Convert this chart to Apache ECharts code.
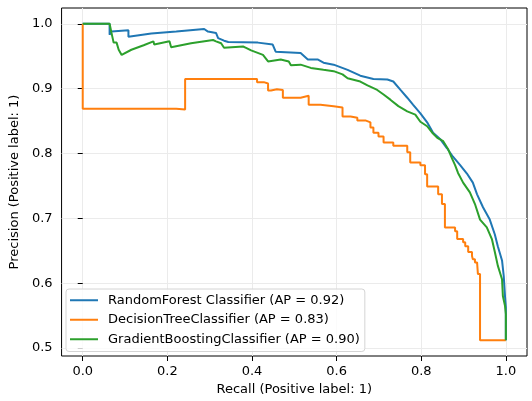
<!DOCTYPE html>
<html>
<head>
<meta charset="utf-8">
<script src="https://cdn.jsdelivr.net/npm/echarts@6/dist/echarts.min.js"></script>
<style>
  html, body { margin: 0; padding: 0; background: #fff; }
  #chart { width: 532px; height: 401px; }
</style>
</head>
<body>
<div id="chart"></div>
<script>
// 图例名称
var names = [
  'RandomForest Classifier (AP = 0.92)',
  'DecisionTreeClassifier (AP = 0.83)',
  'GradientBoostingClassifier (AP = 0.90)'
];
var colors = ['#1f77b4', '#ff7f0e', '#2ca02c'];

// 刻度
var xTicks = [0, 0.2, 0.4, 0.6, 0.8, 1.0];
var yTicks = [0.5, 0.6, 0.7, 0.8, 0.9, 1.0];

// RandomForest: [recall, precision]
var rfCurve = [
  [0, 1.0], [0.0635, 1.0], [0.0635, 0.983], [0.068, 0.988], [0.108, 0.990], [0.108, 0.980],
  [0.162, 0.985], [0.221, 0.988], [0.287, 0.992], [0.296, 0.988], [0.315, 0.986], [0.320, 0.978],
  [0.334, 0.974], [0.344, 0.972], [0.414, 0.971], [0.449, 0.968], [0.456, 0.957], [0.515, 0.955],
  [0.532, 0.945], [0.555, 0.945], [0.569, 0.940], [0.593, 0.937], [0.626, 0.929], [0.656, 0.920],
  [0.687, 0.915], [0.720, 0.914], [0.734, 0.911], [0.751, 0.898], [0.767, 0.886], [0.781, 0.875],
  [0.798, 0.862], [0.814, 0.848], [0.828, 0.832], [0.845, 0.822], [0.861, 0.808], [0.875, 0.795],
  [0.892, 0.782], [0.908, 0.769], [0.922, 0.755], [0.932, 0.737], [0.946, 0.717], [0.962, 0.698],
  [0.974, 0.675], [0.981, 0.657], [0.991, 0.635], [0.995, 0.611], [0.998, 0.580], [1.0, 0.563],
  [1.0, 0.512]
];

// DecisionTree: 阶梯点 [recall, precision]
var dtCurve = [
  [0, 1.0], [0.221, 0.869], [0.242, 0.868], [0.412, 0.915], [0.428, 0.910], [0.438, 0.908],
  [0.445, 0.897], [0.459, 0.899], [0.473, 0.898], [0.515, 0.886], [0.534, 0.889], [0.562, 0.875],
  [0.593, 0.873], [0.614, 0.871], [0.633, 0.857], [0.649, 0.855], [0.668, 0.851], [0.680, 0.848],
  [0.687, 0.840], [0.699, 0.832], [0.711, 0.826], [0.734, 0.817], [0.767, 0.812], [0.774, 0.802],
  [0.798, 0.786], [0.809, 0.782], [0.814, 0.768], [0.840, 0.749], [0.849, 0.737], [0.856, 0.722],
  [0.880, 0.686], [0.885, 0.680], [0.899, 0.668], [0.904, 0.663], [0.911, 0.657], [0.920, 0.648],
  [0.922, 0.642], [0.927, 0.637], [0.932, 0.632], [0.934, 0.629], [0.939, 0.614], [1.0, 0.512]
];

// GradientBoosting: [recall, precision]
var gbCurve = [
  [0, 1.0], [0.0635, 1.0], [0.068, 0.986], [0.073, 0.971], [0.080, 0.971], [0.085, 0.960],
  [0.092, 0.952], [0.115, 0.960], [0.144, 0.967], [0.167, 0.973], [0.169, 0.968], [0.205, 0.973],
  [0.209, 0.964], [0.256, 0.970], [0.308, 0.975], [0.315, 0.973], [0.327, 0.970], [0.334, 0.963],
  [0.379, 0.965], [0.386, 0.963], [0.398, 0.959], [0.426, 0.952], [0.438, 0.942], [0.468, 0.945],
  [0.487, 0.942], [0.492, 0.936], [0.515, 0.937], [0.539, 0.932], [0.569, 0.929], [0.593, 0.927],
  [0.614, 0.922], [0.626, 0.916], [0.656, 0.911], [0.673, 0.905], [0.696, 0.898], [0.711, 0.891],
  [0.727, 0.883], [0.746, 0.873], [0.767, 0.865], [0.786, 0.860], [0.798, 0.849], [0.814, 0.842],
  [0.826, 0.832], [0.838, 0.824], [0.852, 0.819], [0.864, 0.806], [0.873, 0.792], [0.880, 0.782],
  [0.887, 0.770], [0.899, 0.755], [0.915, 0.740], [0.927, 0.722], [0.939, 0.698], [0.955, 0.686],
  [0.967, 0.668], [0.974, 0.648], [0.981, 0.627], [0.991, 0.606], [0.993, 0.580], [0.998, 0.565],
  [1.0, 0.552], [1.0, 0.512]
];

var font = 'DejaVu Sans';

// 坐标范围：数据两侧各留 5%（同 matplotlib 默认 margins）
var yMinData = 0.512, yMaxData = 1.0;
var yPad = (yMaxData - yMinData) * 0.05;

var chart = echarts.init(document.getElementById('chart'), null, { renderer: 'canvas' });

function lineSeries(name, data, color, step) {
  return {
    name: name,
    type: 'line',
    data: data,
    step: step || false,
    showSymbol: false,
    symbol: 'none',
    animation: false,
    lineStyle: { color: color, width: 2 },
    itemStyle: { color: color }
  };
}

var option = {
  animation: false,
  backgroundColor: '#fff',
  grid: {
    left: 60, right: 5, top: 8, bottom: 45,
    show: true, borderColor: '#000', borderWidth: 1, backgroundColor: 'transparent'
  },
  xAxis: {
    type: 'value',
    min: -0.05,
    max: 1.05,
    name: 'Recall (Positive label: 1)',
    nameLocation: 'middle',
    nameGap: 24,
    nameTextStyle: { fontFamily: font, fontSize: 13, color: '#000' },
    axisLine: { show: false },
    axisTick: { show: true, customValues: xTicks, length: 5, lineStyle: { color: '#000', width: 1 } },
    axisLabel: {
      customValues: xTicks, margin: 9, fontFamily: font, fontSize: 13, color: '#000',
      formatter: function (v) { return v.toFixed(1); }
    },
    splitLine: { show: true, lineStyle: { color: '#ebebeb', width: 1 } }
  },
  yAxis: {
    type: 'value',
    min: yMinData - yPad,
    max: yMaxData + yPad,
    name: 'Precision (Positive label: 1)',
    nameLocation: 'middle',
    nameGap: 37,
    nameTextStyle: { fontFamily: font, fontSize: 13, color: '#000' },
    axisLine: { show: false },
    axisTick: { show: true, customValues: yTicks, length: 5, lineStyle: { color: '#000', width: 1 } },
    axisLabel: {
      customValues: yTicks, margin: 9, fontFamily: font, fontSize: 13, color: '#000',
      formatter: function (v) { return v.toFixed(1); }
    },
    splitLine: { show: true, lineStyle: { color: '#ebebeb', width: 1 } }
  },
  legend: {
    orient: 'vertical',
    left: 66,
    top: 289,
    padding: [4, 5, 5, 4],
    icon: 'rect',
    itemWidth: 28,
    itemHeight: 2,
    itemGap: 5,
    borderColor: '#d4d4d4',
    borderWidth: 1,
    borderRadius: 3,
    backgroundColor: 'rgba(255,255,255,0.8)',
    textStyle: { fontFamily: font, fontSize: 13, color: '#000', padding: [0, 0, 0, 5], lineHeight: 14.5 },
    data: names
  },
  series: [
    lineSeries(names[0], rfCurve, colors[0]),
    lineSeries(names[1], dtCurve, colors[1], 'start'),
    lineSeries(names[2], gbCurve, colors[2])
  ]
};

chart.setOption(option);
</script>
</body>
</html>
